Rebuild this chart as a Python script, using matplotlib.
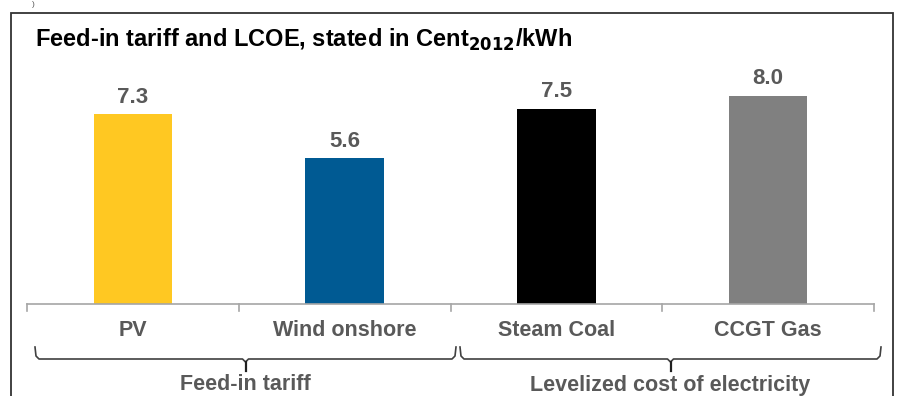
import matplotlib
matplotlib.use('Agg')
import matplotlib.pyplot as plt
from matplotlib.patches import Rectangle

plt.rcParams['font.family'] = ['Liberation Sans', 'DejaVu Sans']

categories = ['PV', 'Wind onshore', 'Steam Coal', 'CCGT Gas']
values = [7.3, 5.6, 7.5, 8.0]
colors = ['#FFC822', '#005A93', '#000000', '#808080']
groups = ['Feed-in tariff', 'Levelized cost of electricity']

W, H = 899, 396
fig = plt.figure(figsize=(W / 100, H / 100), dpi=100)

def fx(px):
    return px / W

def fy(py):
    return 1 - py / H

# outer frame
fig.add_artist(Rectangle((fx(11), fy(420)), fx(893) - fx(11), fy(13) - fy(420),
                         transform=fig.transFigure, fill=False, ec='#333333', lw=1.3))
fig.text(fx(33), fy(5), ')', fontsize=6, color='#555555', ha='center', va='center')

fig.text(fx(35), fy(40), r'Feed-in tariff and LCOE, stated in Cent$_{\mathbf{2012}}$/kWh',
         fontsize=17, fontweight='bold', color='black', ha='left', va='center')

# axes: x from 27 to 874 px, y zero at 304 px, 26 px per unit
ax = fig.add_axes([fx(27), fy(304), fx(874) - fx(27), (304 - 70) / H])
x = range(len(categories))
ax.bar(x, values, width=0.37, color=colors)
ax.set_xlim(-0.5, len(categories) - 0.5)
ax.set_ylim(0, 9)
for i, v in enumerate(values):
    ax.text(i, v + 0.25, f'{v:.1f}', ha='center', va='bottom', fontsize=16,
            fontweight='bold', color='#595959')
ax.set_yticks([])
ax.set_xticks([])
for s in ['top', 'right', 'left']:
    ax.spines[s].set_visible(False)
ax.spines['bottom'].set_color('#A6A6A6')
ax.spines['bottom'].set_linewidth(1.2)
for b in [-0.5, 0.5, 1.5, 2.5, 3.5]:
    ax.plot([b, b], [0, -0.28], color='#A6A6A6', lw=1.2, clip_on=False)
for i, c in enumerate(categories):
    ax.text(i, -1.03, c, ha='center', va='center', fontsize=15.5,
            fontweight='bold', color='#595959')

# braces below the categories
brace_px = [(35, 456), (460, 881)]
for (x0, x1), g in zip(brace_px, groups):
    xm = (x0 + x1) / 2
    top, mid, low = 347, 359, 371
    fig.add_artist(plt.Line2D([fx(x0), fx(x0 + 1), fx(x0 + 4), fx(xm - 3), fx(xm), fx(xm + 3),
                               fx(x1 - 4), fx(x1 - 1), fx(x1)],
                              [fy(top), fy(mid - 3), fy(mid), fy(mid), fy(mid + 3), fy(mid),
                               fy(mid), fy(mid - 3), fy(top)],
                              transform=fig.transFigure, color='#404040', lw=1.2))
    fig.add_artist(plt.Line2D([fx(xm), fx(xm)], [fy(mid + 3), fy(low)],
                              transform=fig.transFigure, color='#202020', lw=1.6))
    fig.text(fx(xm), fy(385), g, ha='center', va='center', fontsize=15.5,
             fontweight='bold', color='#595959')

fig.savefig('out.png', dpi=100)
